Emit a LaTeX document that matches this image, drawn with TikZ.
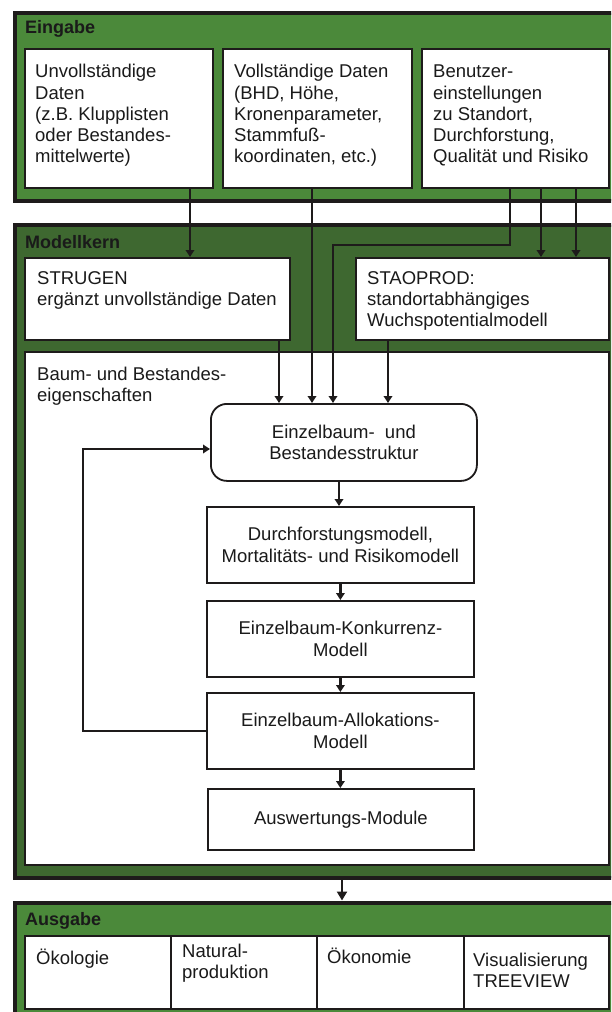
\documentclass[tikz,border=0pt]{standalone}
\usepackage{fontspec}
\setmainfont{Liberation Sans}
\usetikzlibrary{arrows.meta}
\definecolor{greenA}{HTML}{4B893A}
\definecolor{greenB}{HTML}{3E6830}
\definecolor{frameC}{HTML}{1E1B1B}
\definecolor{inkC}{HTML}{1A1A1A}
\begin{document}
\begin{tikzpicture}[x=1pt,y=-1pt,
  every node/.style={font=\fontsize{18.5}{21.3}\selectfont, text=inkC},
  frame/.style={draw=frameC, line width=4pt, anchor=north west, inner sep=0pt},
  title/.style={font=\bfseries\fontsize{18}{21}\selectfont, anchor=base west, inner sep=0pt},
  wbox/.style={draw=frameC, line width=1.8pt, fill=white, anchor=north west, inner sep=0pt},
  chainbox/.style={wbox, align=center},
  txt/.style={anchor=north west, inner sep=0pt, align=left},
  conn/.style={draw=frameC, line width=2.8pt, -{Triangle[width=8.5pt,length=7pt]}},
]
\useasboundingbox (0,0) rectangle (611,1012);
\clip (0,0) rectangle (611,1012);
\fill[white] (0,0) rectangle (611,1012);

% frames
\node[frame, fill=greenA, minimum width=603pt, minimum height=188pt] (eingabe) at (13,11) {};
\node[frame, fill=greenB, minimum width=603pt, minimum height=653.5pt] (modell) at (13,222.5) {};
\node[frame, fill=greenA, minimum width=603pt, minimum height=130pt] (ausgabe) at (13,900.5) {};

\node[title] (teing) at (25,33.5) {Eingabe};
\node[title] (tmod) at (25,248.5) {Modellkern};
\node[title] (taus) at (25,925) {Ausgabe};

% Eingabe boxes
\node[wbox, minimum width=188pt, minimum height=139pt] (in1) at (24,48) {};
\node[wbox, minimum width=189pt, minimum height=139pt] (in2) at (222,48) {};
\node[wbox, minimum width=187pt, minimum height=139pt] (in3) at (421,48) {};
\node[txt] (in1t) at (35,62.6) {\strut Unvollständige\\Daten\\(z.B. Klupplisten\\oder Bestandes-\\mittelwerte)};
\node[txt] (in2t) at (234,62.6) {\strut Vollständige Daten\\(BHD, Höhe,\\Kronenparameter,\\Stammfuß-\\koordinaten, etc.)};
\node[txt] (in3t) at (433,62.6) {\strut Benutzer-\\einstellungen\\zu Standort,\\Durchforstung,\\Qualität und Risiko};

% Modellkern boxes
\node[wbox, minimum width=265pt, minimum height=82pt] (strugen) at (24,257) {};
\node[wbox, minimum width=253pt, minimum height=82pt] (staoprod) at (355,257) {};
\node[wbox, minimum width=584pt, minimum height=513pt] (baum) at (24,351) {};
\node[txt] (strugent) at (37,269) {\strut STRUGEN\\ergänzt unvollständige Daten};
\node[txt] (staoprodt) at (367,269) {\strut STAOPROD:\\standortabhängiges\\Wuchspotentialmodell};
\node[txt] (baumt) at (37,365.1) {\strut Baum- und Bestandes-\\eigenschaften};

% chain
\node[chainbox, rounded corners=16pt, minimum width=266pt, minimum height=77pt] (einzel) at (210,403) {Einzelbaum-~ und\\Bestandesstruktur};
\node[chainbox, minimum width=267pt, minimum height=76pt] (durch) at (206,506) {Durchforstungsmodell,\\Mortalitäts- und Risikomodell};
\node[chainbox, minimum width=267pt, minimum height=76pt] (konk) at (206,600) {Einzelbaum-Konkurrenz-\\Modell};
\node[chainbox, minimum width=267pt, minimum height=76pt] (allok) at (206,692) {Einzelbaum-Allokations-\\Modell};
\node[chainbox, minimum width=266pt, minimum height=61pt] (ausw) at (207,788) {Auswertungs-Module};

% Ausgabe boxes
\node[wbox, minimum width=146pt, minimum height=73pt] (out1) at (24,935) {};
\node[wbox, minimum width=146pt, minimum height=73pt] (out2) at (170,935) {};
\node[wbox, minimum width=147pt, minimum height=73pt] (out3) at (316,935) {};
\node[wbox, minimum width=145pt, minimum height=73pt] (out4) at (463,935) {};
\node[anchor=base west, inner sep=0pt] (out1t) at (36,964) {Ökologie};
\node[txt] (out2t) at (182,942.1) {\strut Natural-\\produktion};
\node[anchor=base west, inner sep=0pt] (out3t) at (327,963.5) {Ökonomie};
\node[txt] (out4t) at (473,951.1) {\strut Visualisierung\\TREEVIEW};

% helper coordinates
\coordinate (x190) at (190,0);
\coordinate (x312) at (312,0);
\coordinate (x510) at (510,0);
\coordinate (x541) at (541,0);
\coordinate (x576) at (576,0);
\coordinate (x279) at (279,0);
\coordinate (x388) at (388,0);
\coordinate (x339) at (339,0);
\coordinate (x342) at (342,0);
\coordinate (bend) at (333,245);
\coordinate (loop) at (83,449);

% connectors
\draw[conn] (in1.south -| x190) -- (strugen.north -| x190);
\draw[conn] (in2.south -| x312) -- (einzel.north -| x312);
\draw[conn] (in3.south -| x510) |- (bend) -- (einzel.north -| bend);
\draw[conn] (in3.south -| x541) -- (staoprod.north -| x541);
\draw[conn] (in3.south -| x576) -- (staoprod.north -| x576);
\draw[conn] (strugen.south -| x279) -- (einzel.north -| x279);
\draw[conn] (staoprod.south -| x388) -- (einzel.north -| x388);
\draw[conn] (einzel.south -| x339) -- (durch.north -| x339);
\draw[conn] (durch.south) -- (konk.north);
\draw[conn] (konk.south) -- (allok.north);
\draw[conn] (allok.south) -- (ausw.north -| allok.south);
\draw[conn] (allok.west) -| (loop) -- (loop -| einzel.west);
\draw[conn, -{Triangle[width=10pt,length=9pt]}] (modell.south -| x342) -- (ausgabe.north -| x342);
\end{tikzpicture}
\end{document}
